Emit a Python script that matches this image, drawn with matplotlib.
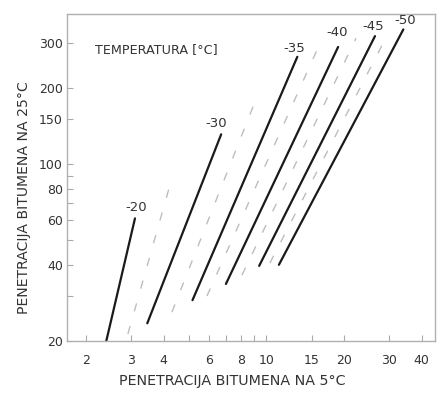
import matplotlib
matplotlib.use("Agg")
import matplotlib.pyplot as plt
from matplotlib.ticker import FixedLocator, NullFormatter

plt.rcParams['font.family'] = ['DejaVu Sans']

# Solid temperature lines: label, (x0, x1), (y0, y1)
temp_labels = ["-20", "-30", "-35", "-40", "-45", "-50"]
solid_x = [(2.4, 3.1), (3.46, 6.69), (5.18, 13.2), (6.98, 19.0), (9.39, 26.4), (11.2, 34.0)]
solid_y = [(20, 61), (23.5, 131), (29, 265), (33.6, 290), (39.6, 320), (40, 340)]
label_x = [3.14, 6.42, 12.9, 18.75, 25.9, 34.5]
label_y = [67.6, 145, 287, 330, 348, 368]

# Dashed intermediate lines
dash_x = [(2.91, 4.27), (4.31, 9.2), (5.89, 15.85), (8.05, 22.3), (10.33, 29.6)]
dash_y = [(21.3, 85), (26, 184), (30.1, 287), (36.4, 314), (40.6, 326)]

x_major = [2, 3, 4, 6, 8, 10, 15, 20, 30, 40]
x_minor = [5, 7, 9]
y_major = [20, 40, 60, 80, 100, 150, 200, 300]
y_minor = [30, 50, 70, 90]

fig = plt.figure(figsize=(4.37, 3.94), dpi=100)
ax = fig.add_axes([0.1533, 0.1345, 0.8421, 0.8312])
ax.set_xscale('log')
ax.set_yscale('log')
ax.set_xlim(1.69, 45.1)
ax.set_ylim(20, 393)

for xs, ys in zip(dash_x, dash_y):
    ax.plot(xs, ys, color='#bdbdbd', lw=1.0, linestyle=(0, (6, 11)), solid_capstyle='butt')
for xs, ys in zip(solid_x, solid_y):
    ax.plot(xs, ys, color='#1a1a1a', lw=1.6, solid_capstyle='round')
for lab, lx, ly in zip(temp_labels, label_x, label_y):
    ax.text(lx, ly, lab, ha='center', va='center', fontsize=9.5, color='#333333')

ax.text(0.076, 0.889, "TEMPERATURA [°C]", transform=ax.transAxes, ha='left', va='center',
        fontsize=9.2, color='#333333')

ax.xaxis.set_major_locator(FixedLocator(x_major))
ax.xaxis.set_minor_locator(FixedLocator(x_minor))
ax.yaxis.set_major_locator(FixedLocator(y_major))
ax.yaxis.set_minor_locator(FixedLocator(y_minor))
ax.set_xticklabels([str(v) for v in x_major])
ax.set_yticklabels([str(v) for v in y_major])
ax.xaxis.set_minor_formatter(NullFormatter())
ax.yaxis.set_minor_formatter(NullFormatter())

ax.tick_params(axis='both', which='both', direction='in', length=4, width=0.8,
               color='#aaaaaa', labelcolor='#333333', labelsize=9)
ax.tick_params(axis='x', which='major', pad=9)
ax.tick_params(axis='y', which='major', pad=3)

for s in ax.spines.values():
    s.set_color('#b0b0b0')
    s.set_linewidth(1.0)

ax.set_xlabel("PENETRACIJA BITUMENA NA 5°C", fontsize=10.3, color='#333333')
ax.set_ylabel("PENETRACIJA BITUMENA NA 25°C", fontsize=10.1, color='#333333')
ax.xaxis.set_label_coords(0.448, -0.10)
ax.yaxis.set_label_coords(-0.097, 0.437)

fig.savefig("out.png", dpi=100)
